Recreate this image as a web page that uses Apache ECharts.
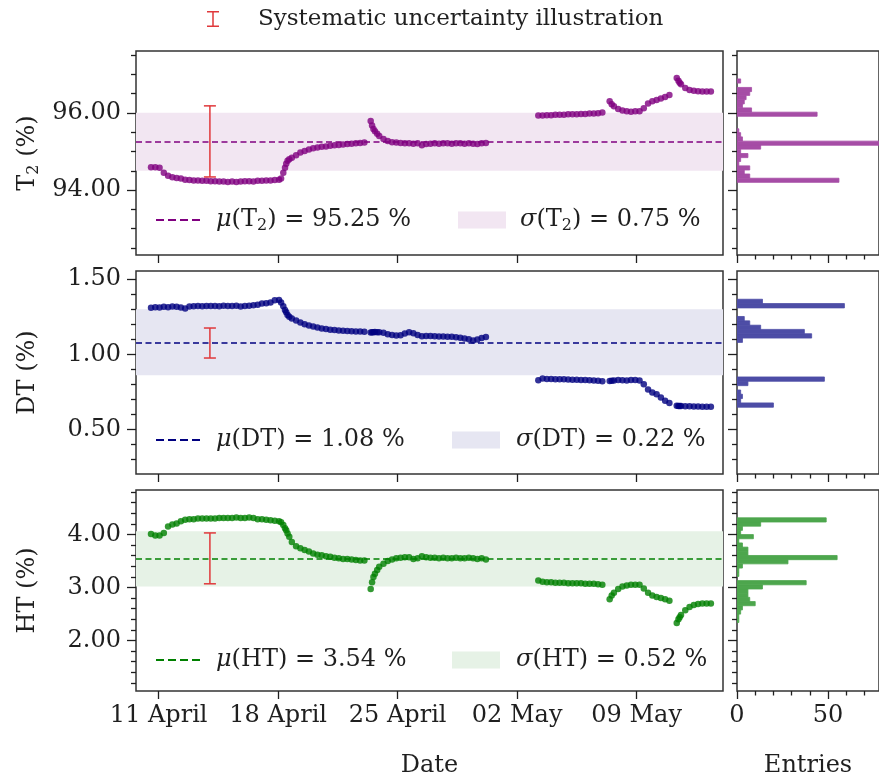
<!DOCTYPE html>
<html>
<head>
<meta charset="utf-8">
<title>Gas composition over time</title>
<script src="https://cdn.jsdelivr.net/npm/echarts@6/dist/echarts.min.js"></script>
<style>
  html, body { margin: 0; padding: 0; background: #fff; }
  #main { width: 879px; height: 779px; }
</style>
</head>
<body>
<div id="main"></div>
<script>
// sample times, in days since 11 April 00:00
var days = [
  -0.45, -0.2, 0.05, 0.3, 0.55, 0.8, 1.05, 1.3, 1.55, 1.8, 2.05, 2.3, 2.55, 2.8, 3.05, 3.3, 3.55, 3.8,
  4.05, 4.3, 4.55, 4.8, 5.05, 5.3, 5.55, 5.8, 6.05, 6.3, 6.55, 6.8, 7.05, 7.17, 7.3, 7.4, 7.47, 7.55,
  7.65, 7.8, 8.05, 8.3, 8.55, 8.8, 9.05, 9.3, 9.55, 9.8, 10.05, 10.3, 10.55, 10.8, 11.05, 11.3, 11.55,
  11.8, 12.05,
  12.42, 12.5, 12.58, 12.67, 12.8, 12.92, 13.17, 13.42, 13.67, 13.92, 14.17, 14.42, 14.67, 14.92, 15.17,
  15.42, 15.67, 15.92, 16.17, 16.42, 16.67, 16.92, 17.17, 17.42, 17.67, 17.92, 18.17, 18.42, 18.67,
  18.92, 19.17,
  22.24, 22.49, 22.74, 22.99, 23.24, 23.49, 23.74, 23.99, 24.24, 24.49, 24.74, 24.99, 25.24, 25.49,
  25.74, 25.99,
  26.42, 26.54, 26.67, 26.92, 27.17, 27.42, 27.67, 27.92, 28.17, 28.42, 28.67, 28.92, 29.17, 29.42,
  29.67, 29.92,
  30.35, 30.45, 30.52, 30.6, 30.85, 31.1, 31.35, 31.6, 31.85, 32.1, 32.35
];

var t2 = [
  94.59, 94.59, 94.58, 94.45, 94.37, 94.33, 94.31, 94.30, 94.27, 94.26, 94.25, 94.25, 94.24, 94.24, 94.23,
  94.23, 94.22, 94.22, 94.21, 94.22, 94.21, 94.22, 94.23, 94.23, 94.22, 94.24, 94.24, 94.25, 94.25, 94.26,
  94.27, 94.30, 94.45, 94.58, 94.68, 94.76, 94.80, 94.84, 94.90, 94.97, 95.01, 95.05, 95.08, 95.10, 95.12,
  95.13, 95.15, 95.16, 95.17, 95.18, 95.19, 95.20, 95.21, 95.22, 95.23,
  95.79, 95.67, 95.58, 95.52, 95.46, 95.40, 95.32, 95.27, 95.24, 95.23, 95.22, 95.21, 95.21, 95.20, 95.21,
  95.16, 95.19, 95.20, 95.21, 95.20, 95.21, 95.21, 95.20, 95.21, 95.21, 95.20, 95.21, 95.20, 95.19, 95.21,
  95.22,
  95.93, 95.93, 95.94, 95.94, 95.95, 95.95, 95.95, 95.96, 95.96, 95.96, 95.97, 95.97, 95.98, 95.98, 95.99,
  96.01,
  96.30, 96.22, 96.17, 96.10, 96.06, 96.04, 96.03, 96.04, 96.04, 96.12, 96.24, 96.30, 96.33, 96.37, 96.41,
  96.46,
  96.90, 96.83, 96.78, 96.74, 96.64, 96.59, 96.57, 96.56, 96.55, 96.55, 96.55
];

var dt = [
  1.310, 1.313, 1.312, 1.316, 1.314, 1.318, 1.317, 1.312, 1.305, 1.318, 1.320, 1.321, 1.320, 1.322, 1.321,
  1.322, 1.320, 1.323, 1.322, 1.321, 1.323, 1.318, 1.322, 1.324, 1.326, 1.330, 1.338, 1.340, 1.345, 1.360,
  1.362, 1.345, 1.320, 1.295, 1.280, 1.262, 1.250, 1.238, 1.225, 1.212, 1.200, 1.192, 1.185, 1.178, 1.172,
  1.168, 1.164, 1.162, 1.159, 1.157, 1.155, 1.154, 1.152, 1.151, 1.150,
  1.145, 1.146, 1.147, 1.148, 1.147, 1.146, 1.143, 1.134, 1.128, 1.125, 1.127, 1.138, 1.147, 1.140, 1.128,
  1.120, 1.122, 1.121, 1.120, 1.119, 1.118, 1.117, 1.116, 1.114, 1.110, 1.105, 1.100, 1.092, 1.098, 1.108,
  1.115,
  0.827, 0.838, 0.836, 0.835, 0.834, 0.833, 0.833, 0.832, 0.831, 0.830, 0.829, 0.828, 0.827, 0.826, 0.824,
  0.821,
  0.822, 0.824, 0.826, 0.828, 0.827, 0.826, 0.828, 0.829, 0.826, 0.800, 0.765, 0.745, 0.733, 0.712, 0.690,
  0.676,
  0.657, 0.656, 0.656, 0.655, 0.654, 0.653, 0.652, 0.652, 0.651, 0.650, 0.650
];

var ht = [
  4.01, 3.98, 3.98, 4.03, 4.15, 4.19, 4.21, 4.25, 4.28, 4.29, 4.29, 4.30, 4.30, 4.30, 4.30, 4.30, 4.31, 4.31,
  4.31, 4.31, 4.32, 4.31, 4.31, 4.32, 4.31, 4.29, 4.29, 4.28, 4.27, 4.26, 4.25, 4.23, 4.18, 4.12, 4.08, 4.02,
  3.96, 3.86, 3.78, 3.74, 3.71, 3.68, 3.64, 3.62, 3.61, 3.59, 3.58, 3.56, 3.55, 3.54, 3.54, 3.53, 3.52, 3.51,
  3.51,
  2.97, 3.10, 3.20, 3.26, 3.33, 3.39, 3.45, 3.50, 3.53, 3.55, 3.56, 3.57, 3.57, 3.54, 3.55, 3.59, 3.57, 3.56,
  3.56, 3.55, 3.56, 3.55, 3.55, 3.56, 3.55, 3.55, 3.56, 3.55, 3.54, 3.55, 3.53,
  3.13, 3.11, 3.10, 3.10, 3.09, 3.09, 3.09, 3.08, 3.08, 3.08, 3.08, 3.07, 3.07, 3.07, 3.06, 3.05,
  2.78, 2.85, 2.90, 2.97, 3.02, 3.04, 3.05, 3.05, 3.05, 2.98, 2.90, 2.85, 2.82, 2.80, 2.78, 2.75,
  2.33, 2.40, 2.44, 2.48, 2.57, 2.63, 2.67, 2.69, 2.70, 2.70, 2.70
];

// mean and spread of each fraction (%)
var meanVals = [95.25, 1.08, 3.54];
var sigmaVals = [0.75, 0.22, 0.52];

// systematic uncertainty bars (day, low, high)
var errDay = 3.0;
var errLow = [94.34, 0.975, 3.07];
var errHigh = [96.18, 1.175, 4.03];

// histograms: bin lower edges, bin width, entries
var t2BinLo = [94.20, 94.31, 94.41, 94.52, 94.63, 94.74, 94.84, 94.95, 95.06, 95.16, 95.27, 95.38, 95.48,
  95.59, 95.70, 95.81, 95.91, 96.02, 96.13, 96.23, 96.34, 96.45, 96.55, 96.66, 96.77];
var t2BinW = 0.107;
var t2Counts = [56, 7, 4, 7, 1, 2, 6, 2, 13, 78, 3, 2, 1, 0, 0, 0, 44, 8, 3, 4, 5, 7, 8, 0, 2];

var dtBinLo = [0.647, 0.676, 0.705, 0.733, 0.762, 0.791, 0.820, 0.849, 0.877, 0.906, 0.935, 0.964, 0.993,
  1.021, 1.050, 1.079, 1.108, 1.137, 1.165, 1.194, 1.223, 1.252, 1.281, 1.309, 1.338];
var dtBinW = 0.0288;
var dtCounts = [20, 2, 3, 2, 0, 6, 48, 0, 0, 0, 0, 0, 0, 0, 0, 3, 41, 37, 13, 7, 4, 0, 0, 59, 14];

var htBinLo = [2.340, 2.419, 2.498, 2.577, 2.656, 2.735, 2.814, 2.893, 2.972, 3.051, 3.130, 3.209, 3.288,
  3.367, 3.446, 3.525, 3.604, 3.683, 3.762, 3.841, 3.920, 3.999, 4.078, 4.157, 4.236];
var htBinW = 0.079;
var htCounts = [1, 1, 2, 3, 10, 7, 6, 6, 14, 38, 0, 1, 1, 3, 28, 55, 6, 6, 3, 1, 9, 2, 3, 13, 49];

// tick positions
var dateTicks = [0, 7, 14, 21, 28];
var dateLabels = ['11 April', '18 April', '25 April', '02 May', '09 May'];
var t2Major = [94, 96];
var t2Minor = [92.5, 93, 93.5, 94.5, 95, 95.5, 96.5, 97, 97.5];
var dtMajor = [0.5, 1.0, 1.5];
var dtMinor = [0.3, 0.4, 0.6, 0.7, 0.8, 0.9, 1.1, 1.2, 1.3, 1.4];
var htMajor = [2, 3, 4];
var htMinor = [1.2, 1.4, 1.6, 1.8, 2.2, 2.4, 2.6, 2.8, 3.2, 3.4, 3.6, 3.8, 4.2, 4.4, 4.6, 4.8];
var entryMajor = [0, 50];
var entryMinor = [10, 20, 30, 40, 60, 70];

var FONT = 'DejaVu Serif';
var INK = '#1f1f1f';
var RED = '#e0383b';
var ERR_NAME = 'Systematic uncertainty illustration';

var chart = echarts.init(document.getElementById('main'));

var panels = [
  {vals: t2, major: t2Major, minor: t2Minor, lo: t2BinLo, w: t2BinW, counts: t2Counts,
   color: '#800080', band: '#f2e6f2', hist: '#a64da6', top: 51, height: 204, min: 92.32, max: 97.6,
   legendY: 220, sigmaLeft: 458, sigmaGap: 9, key: 'T{s|2}'},
  {vals: dt, major: dtMajor, minor: dtMinor, lo: dtBinLo, w: dtBinW, counts: dtCounts,
   color: '#000080', band: '#e6e6f2', hist: '#4d4da6', top: 271, height: 203, min: 0.202, max: 1.555,
   legendY: 440, sigmaLeft: 452, sigmaGap: 11, key: 'DT'},
  {vals: ht, major: htMajor, minor: htMinor, lo: htBinLo, w: htBinW, counts: htCounts,
   color: '#008000', band: '#e6f2e6', hist: '#4da64d', top: 490, height: 203, min: 1.047, max: 4.84,
   legendY: 660, sigmaLeft: 452, sigmaGap: 11, key: 'HT'}
];

var xMin = -1.33, xMax = 33.06;
var entryMax = 78;

var richText = {
  i: {fontFamily: FONT, fontStyle: 'italic', fontSize: 24, lineHeight: 28, color: INK},
  s: {fontFamily: FONT, fontSize: 16, lineHeight: 15, verticalAlign: 'bottom', color: INK},
  g9: {width: 9}, g11: {width: 11}, g34: {width: 34}
};

function tickAxis(grid, min, max, pos, ticks, len) {
  return {
    type: 'value', gridIndex: grid, min: min, max: max, position: pos,
    axisLine: {show: false, onZero: false},
    splitLine: {show: false},
    axisTick: {show: true, inside: false, length: len, customValues: ticks,
      lineStyle: {color: INK, width: 1.3}},
    axisLabel: {show: false}
  };
}

function labelStyle(ticks, fmt, margin) {
  return {show: true, customValues: ticks, formatter: fmt, margin: margin,
    color: INK, fontFamily: FONT, fontSize: 24};
}

function renderErr(params, api) {
  var top = api.coord([api.value(0), api.value(2)]);
  var bot = api.coord([api.value(0), api.value(1)]);
  var st = {stroke: api.visual('color'), lineWidth: 1.5};
  return {type: 'group', children: [
    {type: 'line', shape: {x1: top[0], y1: top[1], x2: bot[0], y2: bot[1]}, style: st},
    {type: 'line', shape: {x1: top[0] - 6, y1: top[1], x2: top[0] + 6, y2: top[1]}, style: st},
    {type: 'line', shape: {x1: bot[0] - 6, y1: bot[1], x2: bot[0] + 6, y2: bot[1]}, style: st}
  ]};
}

function renderBin(params, api) {
  if (!api.value(2)) return null;
  var a = api.coord([0, api.value(1)]);
  var b = api.coord([api.value(2), api.value(0)]);
  var c = api.visual('color');
  return {type: 'rect', shape: {x: a[0], y: a[1], width: b[0] - a[0], height: b[1] - a[1]},
    style: {fill: c, stroke: c, lineWidth: 0.8}};
}

var grids = [], xAxes = [], yAxes = [], series = [], legends = [];
var yNames = ['T{s|2} (%)', 'DT (%)', 'HT (%)'];

// main panels: grid 0-2, histograms: grid 3-5
panels.forEach(function (p, i) {
  grids.push({left: 136, top: p.top, width: 587, height: p.height, show: true,
    borderColor: '#333', borderWidth: 1.5, backgroundColor: 'transparent'});
});
panels.forEach(function (p, i) {
  grids.push({left: 737, top: p.top, width: 150, height: p.height, show: true,
    borderColor: '#333', borderWidth: 1.5, backgroundColor: 'transparent'});
});

// x axes: 0-2 dates, 3-5 entries major, 6-8 entries minor
panels.forEach(function (p, i) {
  var ax = tickAxis(i, xMin, xMax, 'bottom', dateTicks, 8);
  if (i === 2) {
    ax.axisLabel = labelStyle(dateTicks, function (v) {
      return dateLabels[dateTicks.indexOf(Math.round(v))];
    }, 13);
    ax.name = 'Date';
    ax.nameLocation = 'middle';
    ax.nameGap = 63;
    ax.nameTextStyle = {fontFamily: FONT, fontSize: 24, color: INK};
  }
  xAxes.push(ax);
});
panels.forEach(function (p, i) {
  var ax = tickAxis(3 + i, 0, entryMax, 'bottom', entryMajor, 8);
  if (i === 2) {
    ax.axisLabel = labelStyle(entryMajor, function (v) { return String(v); }, 13);
    ax.name = 'Entries';
    ax.nameLocation = 'middle';
    ax.nameGap = 63;
    ax.nameTextStyle = {fontFamily: FONT, fontSize: 24, color: INK};
  }
  xAxes.push(ax);
});
panels.forEach(function (p, i) {
  xAxes.push(tickAxis(3 + i, 0, entryMax, 'bottom', entryMinor, 4.5));
});

// y axes: 0-2 main major, 3-5 main minor, 6-8 hist major, 9-11 hist minor
panels.forEach(function (p, i) {
  var ax = tickAxis(i, p.min, p.max, 'left', p.major, 9);
  ax.axisLabel = labelStyle(p.major, function (v) { return v.toFixed(2); }, 15);
  ax.name = yNames[i];
  ax.nameLocation = 'middle';
  ax.nameRotate = 90;
  ax.nameGap = 94;
  ax.nameTextStyle = {fontFamily: FONT, fontSize: 24, color: INK, lineHeight: 28,
    rich: {s: {fontFamily: FONT, fontSize: 16, lineHeight: 16, verticalAlign: 'bottom', color: INK}}};
  yAxes.push(ax);
});
panels.forEach(function (p, i) { yAxes.push(tickAxis(i, p.min, p.max, 'left', p.minor, 5)); });
panels.forEach(function (p, i) { yAxes.push(tickAxis(3 + i, p.min, p.max, 'left', p.major, 9)); });
panels.forEach(function (p, i) { yAxes.push(tickAxis(3 + i, p.min, p.max, 'left', p.minor, 5)); });

var dashIcon = 'path://M0,0H8V2H0Z M12,0H20V2H12Z M24,0H32V2H24Z M36,0H44V2H36Z';
var errIcon = 'path://M0,0H12V1.5H0Z M5.25,0H6.75V16H5.25Z M0,14.5H12V16H0Z';

panels.forEach(function (p, i) {
  var mu = meanVals[i], sg = sigmaVals[i];
  series.push({
    type: 'line', name: 'sigma' + i, xAxisIndex: i, yAxisIndex: i, data: [], color: p.band, z: 1,
    markArea: {silent: true, itemStyle: {color: p.band},
      data: [[{yAxis: mu - sg}, {yAxis: mu + sg}]]}
  });
  series.push({
    type: 'line', name: 'mu' + i, xAxisIndex: i, yAxisIndex: i, data: [], color: p.color, z: 2,
    markLine: {silent: true, symbol: ['none', 'none'], label: {show: false},
      lineStyle: {color: p.color, type: [6, 3.5], width: 1.6},
      data: [{yAxis: mu}]}
  });
  series.push({
    type: 'scatter', name: 'points' + i, xAxisIndex: i, yAxisIndex: i, z: 3,
    symbolSize: 6.5, itemStyle: {color: p.color},
    data: days.map(function (d, k) { return [d, p.vals[k]]; })
  });
  series.push({
    type: 'custom', name: ERR_NAME, xAxisIndex: i, yAxisIndex: i, z: 5,
    itemStyle: {color: RED}, renderItem: renderErr,
    data: [[errDay, errLow[i], errHigh[i]]]
  });
  series.push({
    type: 'custom', name: 'hist' + i, xAxisIndex: 3 + i, yAxisIndex: 6 + i, z: 3, clip: true,
    itemStyle: {color: p.hist}, renderItem: renderBin,
    data: p.lo.map(function (l, k) { return [l, l + p.w, p.counts[k]]; })
  });

  var muLabel = '{g11| }{i|μ}(' + p.key + ') = ' + mu.toFixed(2) + ' %';
  var sgLabel = '{g' + p.sigmaGap + '| }{i|σ}(' + p.key + ') = ' + sg.toFixed(2) + ' %';
  legends.push({
    left: 156, top: p.legendY - 14, padding: 0, selectedMode: false,
    itemWidth: 44, itemHeight: 2, symbolKeepAspect: false,
    data: [{name: 'mu' + i, icon: dashIcon}],
    formatter: function () { return muLabel; },
    textStyle: {fontFamily: FONT, fontSize: 24, lineHeight: 28, color: INK, rich: richText}
  });
  legends.push({
    left: p.sigmaLeft, top: p.legendY - 14, padding: 0, selectedMode: false,
    itemWidth: 48, itemHeight: 17, symbolKeepAspect: false,
    data: [{name: 'sigma' + i, icon: 'rect'}],
    formatter: function () { return sgLabel; },
    textStyle: {fontFamily: FONT, fontSize: 24, lineHeight: 28, color: INK, rich: richText}
  });
});

legends.push({
  left: 207, top: 5, padding: 0, selectedMode: false,
  itemWidth: 12, itemHeight: 16, symbolKeepAspect: false,
  data: [{name: ERR_NAME, icon: errIcon}],
  formatter: function (name) { return '{g34| }' + name; },
  textStyle: {fontFamily: FONT, fontSize: 23, lineHeight: 28, color: INK, rich: richText}
});

chart.setOption({
  animation: false,
  backgroundColor: '#ffffff',
  textStyle: {fontFamily: FONT},
  grid: grids,
  xAxis: xAxes,
  yAxis: yAxes,
  legend: legends,
  series: series
});
</script>
</body>
</html>
